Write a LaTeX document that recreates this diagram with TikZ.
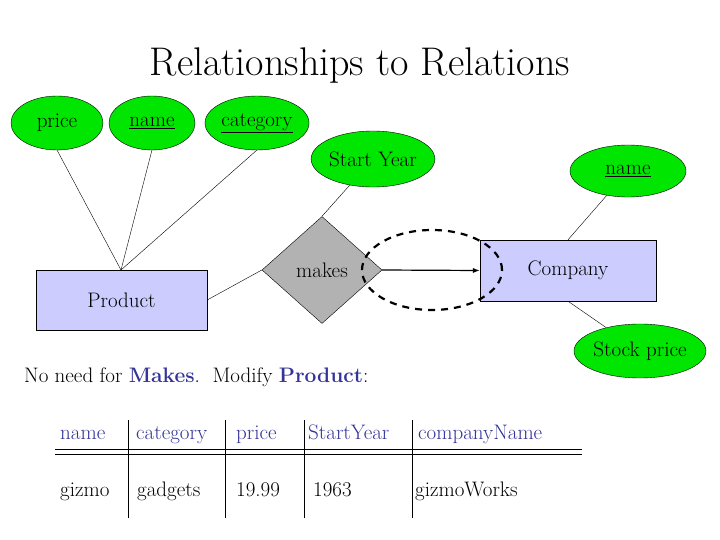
\documentclass[tikz,border=0pt]{standalone}
\usetikzlibrary{shapes.geometric,arrows.meta}
\definecolor{attr}{RGB}{0,230,0}
\definecolor{ent}{RGB}{204,204,255}
\definecolor{navy}{RGB}{51,51,153}
\begin{document}
\begin{tikzpicture}[x=1pt,y=-1pt,
  attrib/.style={ellipse,draw,fill=attr,inner sep=0pt,font=\fontsize{21}{24}\selectfont},
  entity/.style={draw,fill=ent,font=\fontsize{21}{24}\selectfont,inner sep=0pt},
  txt/.style={font=\fontsize{21}{24}\selectfont,inner sep=0pt,anchor=base west},
  hd/.style={txt,text=navy},
  link/.style={draw,thin}]
\useasboundingbox (0,0) rectangle (720,540);
\node[font=\fontsize{40}{46}\selectfont] (title) at (360,66) {Relationships to Relations};
\node[attrib,minimum width=92,minimum height=54] (price) at (57,123) {price};
\node[attrib,minimum width=86,minimum height=54] (pname) at (152,123) {\underline{name}};
\node[attrib,minimum width=104,minimum height=54] (cat) at (257,123) {\underline{category}};
\node[attrib,minimum width=116,minimum height=56] (sy) at (373,159) {Start Year};
\node[attrib,minimum width=116,minimum height=52] (cname) at (628,171) {\underline{name}};
\node[attrib,minimum width=116,minimum height=54] (stock) at (640,351) {Stock price};
\node[entity,minimum width=171,minimum height=60] (prod) at (121.5,300) {Product};
\node[entity,minimum width=176,minimum height=61] (comp) at (568,270.5) {Company};
\node[diamond,draw,fill=gray!60,inner sep=0pt,minimum width=120,minimum height=107,
  font=\fontsize{21}{24}\selectfont] (makes) at (322,270) {makes};
\coordinate (ptop) at (121,270);
\draw[link] (57,150) -- (ptop);
\draw[link] (152,150) -- (ptop);
\draw[link] (257,150) -- (ptop);
\draw[link] (sy) -- (makes.north);
\draw[link] (cname) -- (comp.north);
\draw[link] (comp.south) -- (stock);
\draw[link] (prod.east) -- (makes.west);
\draw[-{Latex[length=7pt]},line width=1.2pt] (makes.east) -- (comp.west);
\node[ellipse,draw,dashed,line width=2.2pt,dash pattern=on 7pt off 6pt,minimum width=140,minimum height=80] (dash) at (432,270) {};
\node[txt] (note) at (24,382) {No need for \textcolor{navy}{\textbf{Makes}}.\ \ Modify \textcolor{navy}{\textbf{Product}}:};
\node[hd] (h1) at (60,439) {name};
\node[hd] (h2) at (136,439) {category};
\node[hd] (h3) at (236,439) {price};
\node[hd] (h4) at (308,439) {StartYear};
\node[hd] (h5) at (418,439) {companyName};
\node[txt] (d1) at (60,496) {gizmo};
\node[txt] (d2) at (137,496) {gadgets};
\node[txt] (d3) at (236,496) {19.99};
\node[txt] (d4) at (313,496) {1963};
\node[txt] (d5) at (415,496) {gizmoWorks};
\coordinate (l1) at (55,449); \coordinate (r1) at (582,449);
\coordinate (l2) at (55,454); \coordinate (r2) at (582,454);
\draw (l1) -- (r1); \draw (l2) -- (r2);
\foreach \x in {128,225,304,412} \draw (\x,420) -- (\x,518);
\end{tikzpicture}
\end{document}
